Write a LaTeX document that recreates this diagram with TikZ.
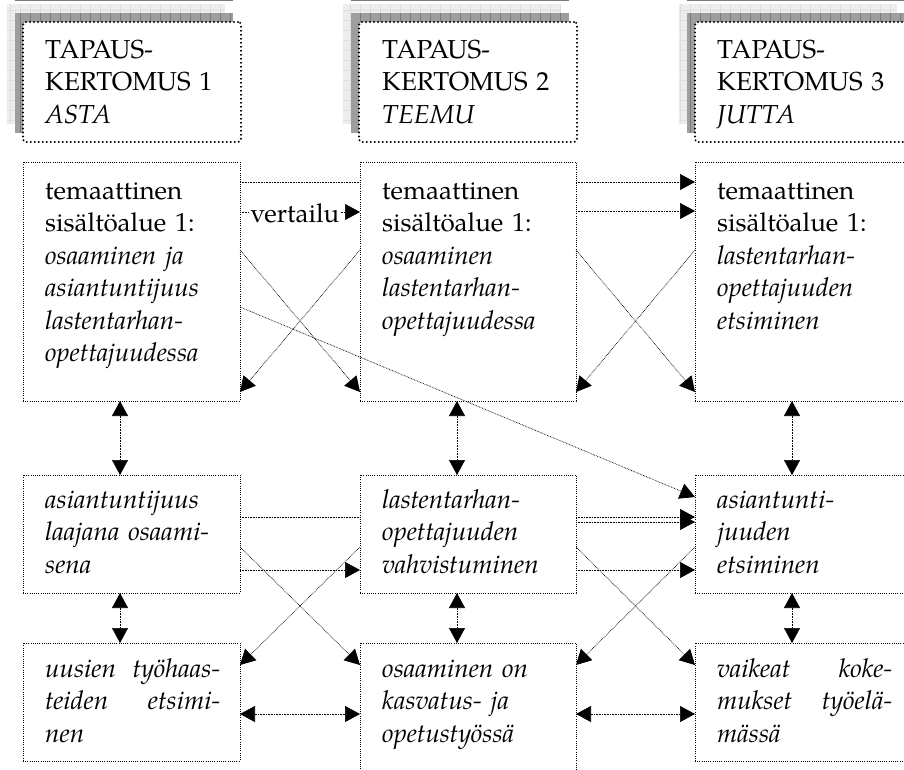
\documentclass[tikz,border=0pt]{standalone}
\usepackage{fontspec}
\setmainfont{TeX Gyre Pagella}
\usetikzlibrary{arrows.meta,calc}
\pgfdeclarelayer{background}
\pgfsetlayers{background,main}

\begin{document}
\begin{tikzpicture}[x=1pt,y=-1pt,
  box/.style={draw, line width=0.95pt, dash pattern=on 0.95pt off 1.25pt,
    fill=white, inner sep=0pt, outer sep=0pt, anchor=north west},
  headbox/.style={draw, line width=2.2pt, dash pattern=on 0pt off 4pt,
    line cap=round, rounded corners=3pt, fill=white, inner sep=0pt,
    outer sep=0pt, anchor=north west, minimum width=218pt, minimum height=120pt},
  txt/.style={anchor=north west, inner sep=0pt, align=left, text width=175pt,
    font=\fontsize{26}{32.5}\selectfont},
  lbl/.style={anchor=base, yshift=-10pt, fill=white, inner sep=1pt,
    font=\fontsize{26}{32.5}\selectfont},
  tip/.tip={Triangle[length=15pt,width=16pt]},
  conn/.style={line width=0.7pt, dash pattern=on 0.7pt off 0.9pt, -tip},
  bidir/.style={conn, tip-tip},
]
\useasboundingbox (0,0) rectangle (904,769);
\clip (0,0) rectangle (904,769);

% case headers
\node[headbox] (H1) at (23,22) {};
\node[headbox] (H2) at (359,22) {};
\node[headbox] (H3) at (695,22) {};

% stacked shadows behind the headers
\begin{pgfonlayer}{background}
\foreach \h in {H1,H2,H3} {
  \coordinate (la) at ([shift={(-16pt,18pt)}]\h.north west);
  \coordinate (lb) at ([shift={(-16pt,18pt)}]\h.south east);
  \fill[black!7] (la) rectangle (lb);
  \draw[black!13, line width=0.6pt, step=10pt] (la) grid (lb);
  \coordinate (da) at ([shift={(-8pt,9pt)}]\h.north west);
  \coordinate (db) at ([shift={(-8pt,9pt)}]\h.south east);
  \fill[black!38] (da) rectangle (db);
  \draw[black!52, line width=0.8pt, xstep=10pt, ystep=1000pt] (da) grid (db);
}
\end{pgfonlayer}

\node[txt] (tH1) at (45,35.25) {\strut TAPAUS-\\KERTOMUS 1\\\textit{ASTA}};
\node[txt] (tH2) at (382,35.25) {\strut TAPAUS-\\KERTOMUS 2\\\textit{TEEMU}};
\node[txt] (tH3) at (717,35.25) {\strut TAPAUS-\\KERTOMUS 3\\\textit{JUTTA}};

% thematic boxes, three rows
\node[box, minimum width=217pt, minimum height=239pt] (L1) at (23,162) {};
\node[box, minimum width=216pt, minimum height=239pt] (M1) at (360,162) {};
\node[box, minimum width=218pt, minimum height=239pt] (R1) at (695,162) {};
\node[box, minimum width=217pt, minimum height=118pt] (L2) at (23,475) {};
\node[box, minimum width=216pt, minimum height=118pt] (M2) at (360,475) {};
\node[box, minimum width=218pt, minimum height=118pt] (R2) at (695,475) {};
\node[box, minimum width=217pt, minimum height=118pt] (L3) at (23,643) {};
\node[box, minimum width=216pt, minimum height=140pt] (M3) at (360,643) {};
\node[box, minimum width=218pt, minimum height=118pt] (R3) at (695,643) {};

\node[txt] (tL1) at (45,176.25) {\strut temaattinen\\sisältöalue 1:\\\textit{osaaminen ja}\\
  \textit{asiantuntijuus}\\\textit{lastentarhan-}\\\textit{opettajuudessa}};
\node[txt] (tM1) at (382,176.25) {\strut temaattinen\\sisältöalue 1:\\\textit{osaaminen}\\
  \textit{lastentarhan-}\\\textit{opettajuudessa}};
\node[txt] (tR1) at (717,176.25) {\strut temaattinen\\sisältöalue 1:\\\textit{lastentarhan-}\\
  \textit{opettajuuden}\\\textit{etsiminen}};

\node[txt, font=\fontsize{26}{32.5}\selectfont\itshape] (tL2) at (45,485.25)
  {\strut asiantuntijuus\\laajana osaami-\\sena};
\node[txt, font=\fontsize{26}{32.5}\selectfont\itshape] (tM2) at (382,485.25)
  {\strut lastentarhan-\\opettajuuden\\vahvistuminen};
\node[txt, font=\fontsize{26}{32.5}\selectfont\itshape] (tR2) at (717,485.25)
  {\strut asiantunti-\\juuden\\etsiminen};

\node[txt, font=\fontsize{26}{32.5}\selectfont\itshape] (tL3) at (45,654.25)
  {\strut uusien\hfill työhaas-\\teiden\hfill etsimi-\\nen};
\node[txt, font=\fontsize{26}{32.5}\selectfont\itshape] (tM3) at (382,654.25)
  {\strut osaaminen on\\kasvatus- ja\\opetustyössä};
\node[txt, font=\fontsize{26}{32.5}\selectfont\itshape] (tR3) at (717,654.25)
  {\strut vaikeat\hfill koke-\\mukset\hfill työelä-\\mässä};

% long horizontal comparisons run behind the middle column
\begin{pgfonlayer}{background}
\draw[conn] ([yshift=-20pt]L1.north east) -- ([yshift=-20pt]R1.north west);
\draw[conn] ([yshift=-42pt]L2.north east) -- ([yshift=-42pt]R2.north west);
\end{pgfonlayer}

% row 1 comparisons
\draw[conn] ([yshift=-50pt]L1.north east) -- node[lbl, pos=0.458] (vt) {vertailu}
  ([yshift=-50pt]M1.north west);
\draw[conn] ([yshift=-49pt]M1.north east) -- ([yshift=-49pt]R1.north west);
\draw[conn] ([yshift=-88pt]L1.north east) -- ([yshift=9pt]M1.south west);
\draw[conn] ([yshift=-88pt]M1.north west) -- ([yshift=9pt]L1.south east);
\draw[conn] ([yshift=-88pt]M1.north east) -- ([yshift=9pt]R1.south west);
\draw[conn] ([yshift=-88pt]R1.north west) -- ([yshift=9pt]M1.south east);
\draw[conn] ([yshift=-145pt]L1.north east) -- ([yshift=-22pt]R2.north west);

% links down each column
\foreach \c in {L,M,R} {
  \draw[bidir] ([xshift=97pt]\c1.south west) -- ([xshift=97pt]\c2.north west);
  \draw[bidir] ([xshift=97pt]\c2.south west) -- ([xshift=97pt]\c3.north west);
}

% row 2 comparisons
\draw[conn] ([yshift=-47pt]M2.north east) -- ([yshift=-47pt]R2.north west);
\draw[conn] ([yshift=-95pt]L2.north east) -- ([yshift=-95pt]M2.north west);
\draw[conn] ([yshift=-95pt]M2.north east) -- ([yshift=-95pt]R2.north west);
\draw[conn] ([yshift=-72pt]L2.north east) -- ([yshift=-22pt]M3.north west);
\draw[conn] ([yshift=-72pt]M2.north west) -- ([yshift=-22pt]L3.north east);
\draw[conn] ([yshift=-72pt]M2.north east) -- ([yshift=-22pt]R3.north west);
\draw[conn] ([yshift=-72pt]R2.north west) -- ([yshift=-22pt]M3.north east);

% row 3 comparisons
\draw[bidir] ([yshift=-71pt]L3.north east) -- ([yshift=-71pt]M3.north west);
\draw[bidir] ([yshift=-71pt]M3.north east) -- ([yshift=-71pt]R3.north west);
\end{tikzpicture}
\end{document}
